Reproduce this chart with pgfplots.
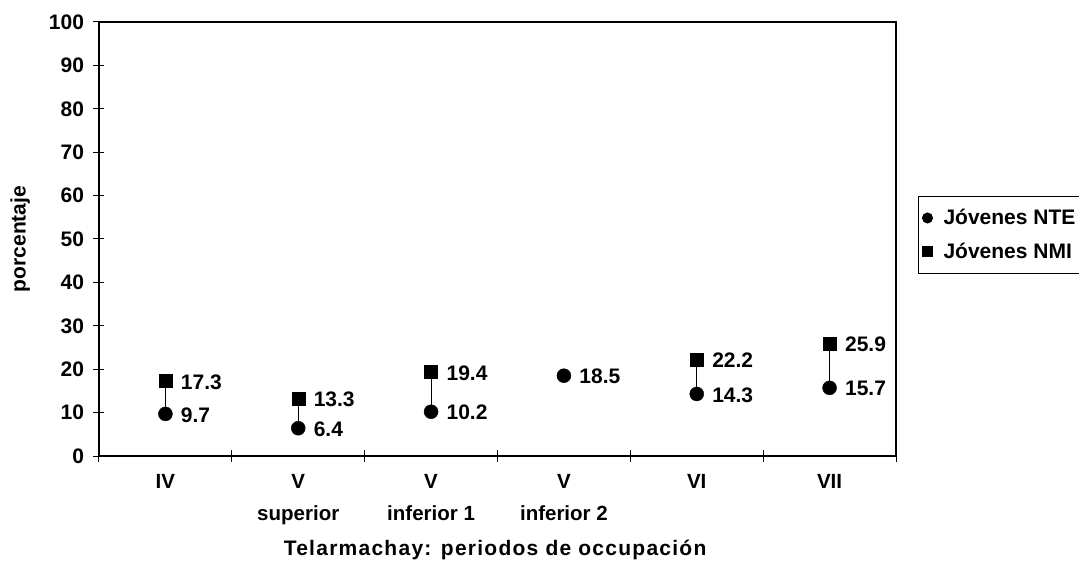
\documentclass[border=0pt]{standalone}
\usepackage{pgfplots}
\pgfplotsset{compat=1.18}
\usepackage{pgfplotstable}
\usepackage{fontspec}
\setmainfont{Liberation Sans}
\newcommand\f{\fontsize{21}{25}\selectfont\bfseries}
\newcommand\fx{\fontsize{20.5}{32}\selectfont\bfseries}

\pgfplotstableread{
x nte nmi
0 9.7 17.3
1 6.4 13.3
2 10.2 19.4
3 18.5 nan
4 14.3 22.2
5 15.7 25.9
}\data

\begin{document}
\begin{tikzpicture}[x=1pt,y=1pt]
\useasboundingbox (-99,-114) rectangle (980,456);
\begin{axis}[
  at={(0,0)}, anchor=south west, scale only axis,
  width=797pt, height=434pt,
  xmin=-0.5, xmax=5.5, ymin=0, ymax=100,
  axis lines=box,
  axis line style={line width=1.3pt},
  ytick={0,10,...,100},
  xtick={0,...,5},
  xticklabels={IV, V\\superior, V\\inferior 1, V\\inferior 2, VI, VII},
  xticklabel style={align=center, font=\fx, anchor=north, yshift=-9pt},
  yticklabel style={font=\f, xshift=-6pt},
  /pgf/number format/assume math mode=true,
  major x tick style={draw=none},
  minor xtick={-0.5,0.5,...,5.5},
  tick align=center,
  major tick length=11pt, minor tick length=12pt,
  tick style={black, line width=1pt},
  xtick pos=bottom, ytick pos=left,
  ylabel={porcentaje},
  ylabel style={font=\f, at={(axis description cs:-0.099,0.5)}, anchor=center, rotate=0},
  xlabel={Telarmachay: periodos de occupación},
  xlabel style={font=\f\addfontfeature{LetterSpace=6}, at={(axis description cs:0.497,-0.2166)}, anchor=center},
  unbounded coords=jump,
  clip=false,
  legend style={at={(axis description cs:1.0276,0.599)}, anchor=north west,
    draw=black, line width=1pt, font=\f, row sep=13pt, inner xsep=4pt, inner ysep=11pt,
    legend cell align=left},
  legend image code/.code={\draw[#1, mark size=5pt] plot coordinates {(0pt,0pt)};
     \path[draw=none, fill=none] (-5pt,-5pt) rectangle (14pt,5pt);},
]
\addplot[black, line width=1pt, forget plot] coordinates {
 (0,9.7) (0,17.3) (0,nan)
 (1,6.4) (1,13.3) (1,nan)
 (2,10.2) (2,19.4) (2,nan)
 (4,14.3) (4,22.2) (4,nan)
 (5,15.7) (5,25.9)
};
\addplot[only marks, mark=*, mark size=7pt, black,
  nodes near coords, point meta=explicit symbolic,
  every node near coord/.append style={font=\f, anchor=west, xshift=12pt, yshift=-1pt}]
  table[x=x, y=nte, meta=nte] {\data};
\addlegendentry{Jóvenes NTE}
\addplot[only marks, mark=square*, mark size=6.5pt, black,
  nodes near coords, point meta=explicit symbolic,
  every node near coord/.append style={font=\f, anchor=west, xshift=12pt, yshift=-1pt}]
  table[x=x, y=nmi, meta=nmi] {\data};
\addlegendentry{Jóvenes NMI}
\end{axis}
\end{tikzpicture}
\end{document}
